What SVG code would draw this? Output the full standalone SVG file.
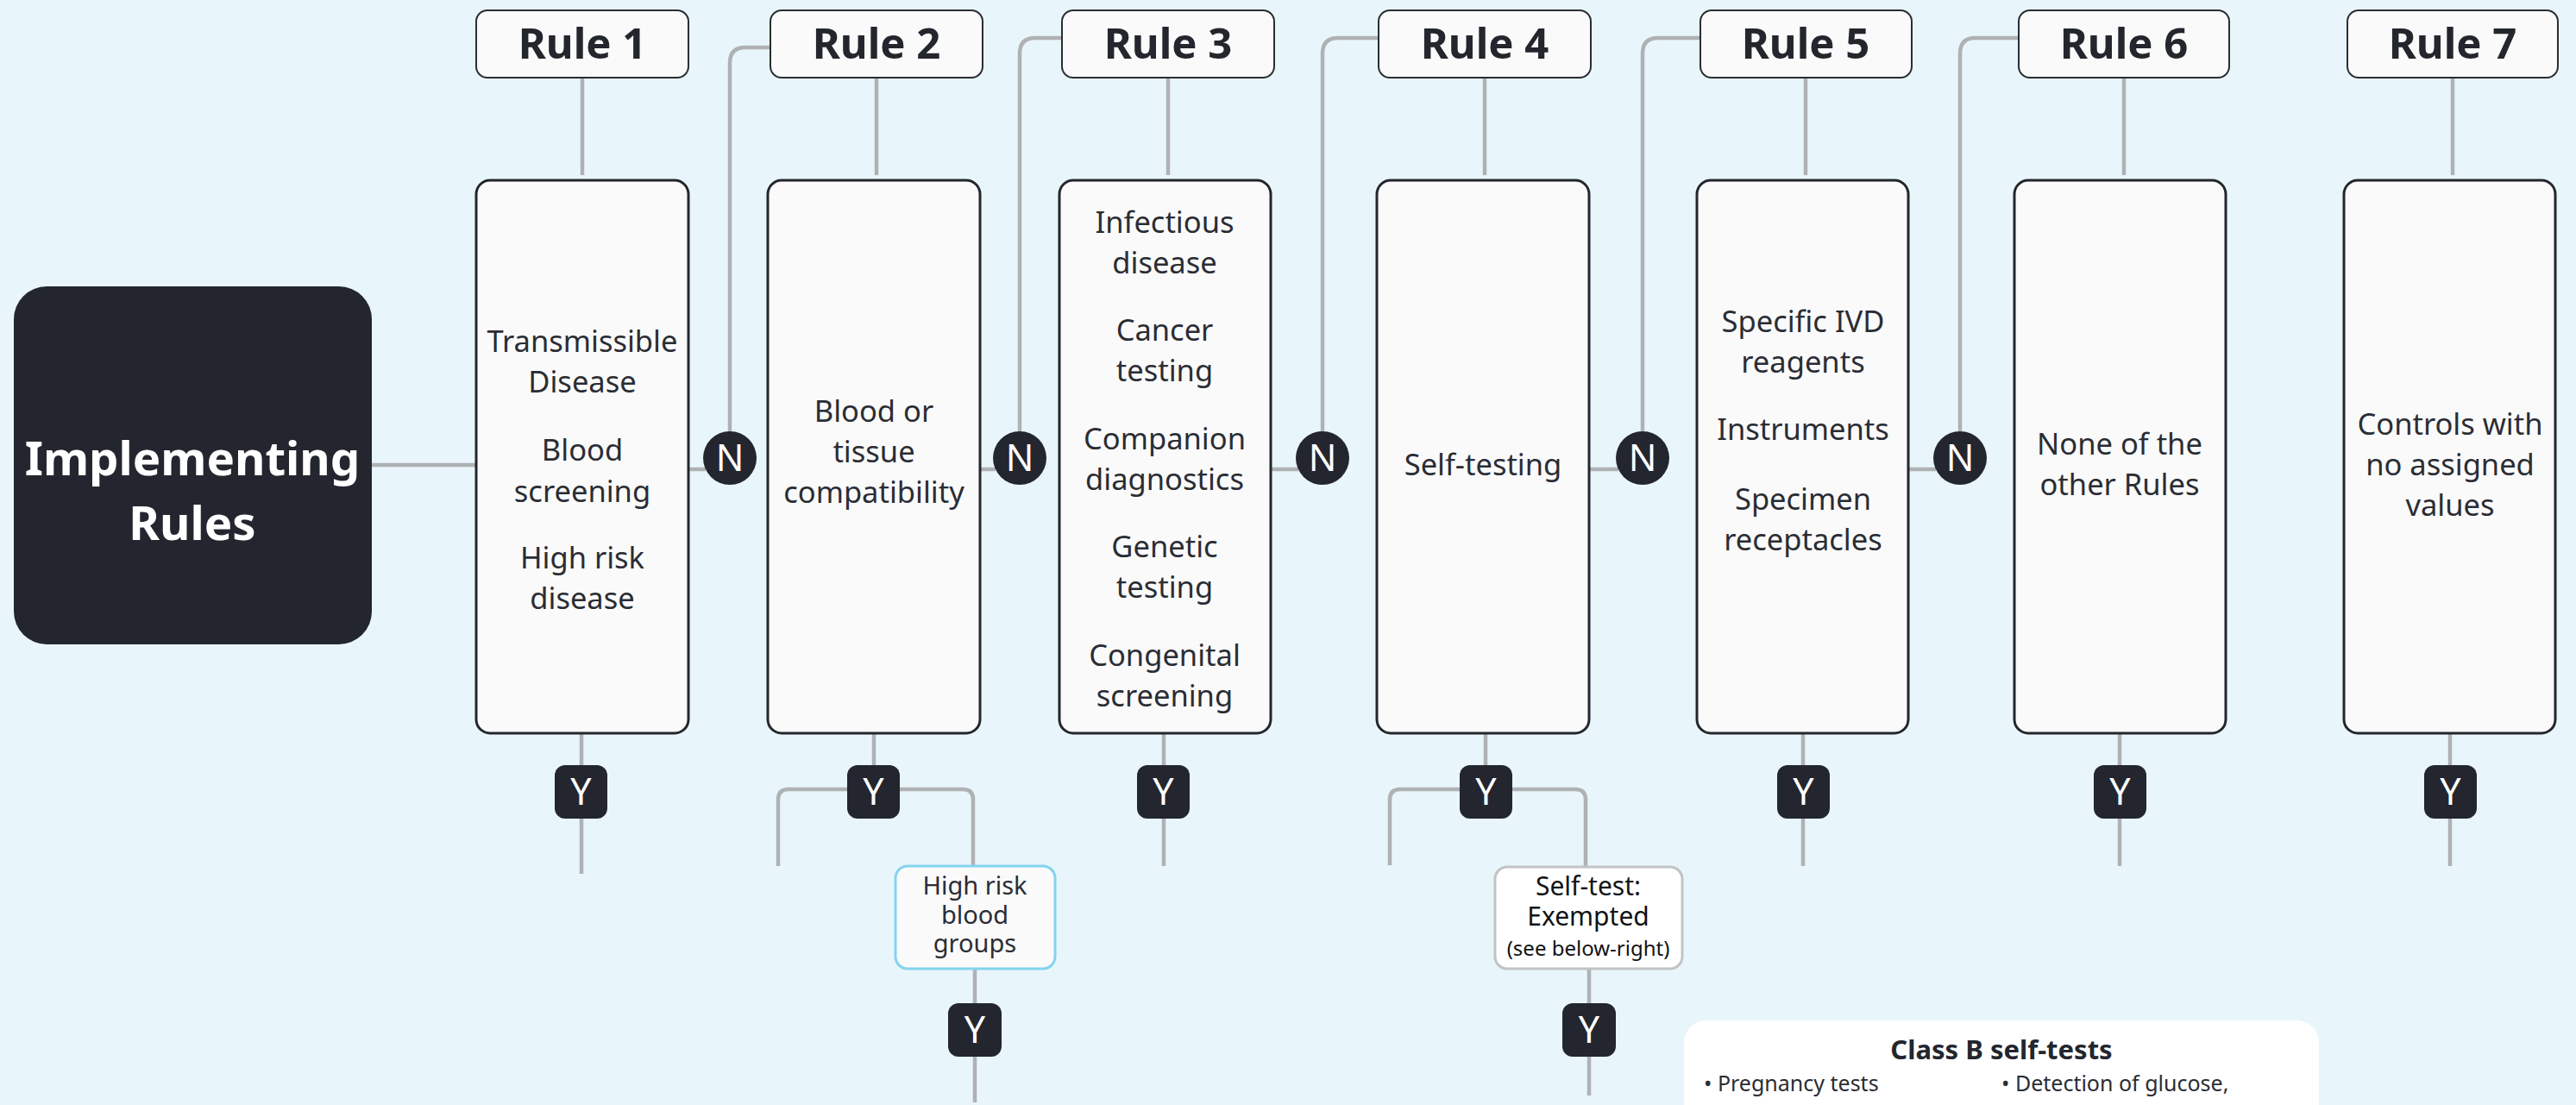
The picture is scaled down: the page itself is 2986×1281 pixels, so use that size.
<svg xmlns="http://www.w3.org/2000/svg" width="2986" height="1281" viewBox="0 0 2986 1281">
<style>
  .bg{fill:#e8f6fc}
  .hdr{fill:#fafafa;stroke:#2a2d33;stroke-width:2}
  .body{fill:#fafafa;stroke:#23262d;stroke-width:3}
  .ht{font-family:"Noto Sans","Liberation Sans",sans-serif;font-weight:bold;font-size:49px;fill:#23262d;text-anchor:middle}
  .bt{font-family:"Noto Sans","Liberation Sans",sans-serif;font-size:34.5px;fill:#2a2d34;text-anchor:middle}
  .conn{fill:none;stroke:#b0b1b3;stroke-width:4.5}
  .dark{fill:#23262e}
  .lbl{font-family:"Noto Sans","Liberation Sans",sans-serif;font-size:43px;fill:#ffffff;text-anchor:middle}
  .st{font-family:"Noto Sans","Liberation Sans",sans-serif;font-size:29px;fill:#2a2d34;text-anchor:middle}
  .cb{font-family:"Noto Sans","Liberation Sans",sans-serif;font-size:25px;fill:#2a2d34}
</style>
<rect class="bg" x="0" y="0" width="2986" height="1281"/>

<g id="connectors">
  <line class="conn" x1="431" y1="539" x2="552" y2="539"/>
  <line class="conn" x1="675" y1="90" x2="675" y2="203"/>
  <line class="conn" x1="1016" y1="90" x2="1016" y2="203"/>
  <line class="conn" x1="1354" y1="90" x2="1354" y2="203"/>
  <line class="conn" x1="1721" y1="90" x2="1721" y2="203"/>
  <line class="conn" x1="2093" y1="90" x2="2093" y2="203"/>
  <line class="conn" x1="2462" y1="90" x2="2462" y2="203"/>
  <line class="conn" x1="2843" y1="90" x2="2843" y2="203"/>
  <line class="conn" x1="798" y1="544" x2="818" y2="544"/>
  <line class="conn" x1="1136" y1="544" x2="1154" y2="544"/>
  <line class="conn" x1="1473" y1="544" x2="1505" y2="544"/>
  <line class="conn" x1="1842" y1="544" x2="1876" y2="544"/>
  <line class="conn" x1="2212" y1="544" x2="2244" y2="544"/>
  <path class="conn" d="M846 500 V73 Q846 55 864 55 H893"/>
  <path class="conn" d="M1182 500 V62 Q1182 44 1200 44 H1231"/>
  <path class="conn" d="M1533 500 V62 Q1533 44 1551 44 H1598"/>
  <path class="conn" d="M1904 500 V62 Q1904 44 1922 44 H1971"/>
  <path class="conn" d="M2272 500 V62 Q2272 44 2290 44 H2340"/>
  <line class="conn" x1="674" y1="850" x2="674" y2="1013"/>
  <line class="conn" x1="1013" y1="850" x2="1013" y2="890"/>
  <path class="conn" d="M985 915 H914 Q902 915 902 927 V1004"/>
  <path class="conn" d="M1040 915 H1116 Q1128 915 1128 927 V1004"/>
  <line class="conn" x1="1130" y1="1123" x2="1130" y2="1278"/>
  <line class="conn" x1="1349" y1="850" x2="1349" y2="1004"/>
  <line class="conn" x1="1722" y1="850" x2="1722" y2="890"/>
  <path class="conn" d="M1694 915 H1623 Q1611 915 1611 927 V1003"/>
  <path class="conn" d="M1750 915 H1826 Q1838 915 1838 927 V1005"/>
  <line class="conn" x1="1842" y1="1123" x2="1842" y2="1270"/>
  <line class="conn" x1="2090" y1="850" x2="2090" y2="1004"/>
  <line class="conn" x1="2457" y1="850" x2="2457" y2="1004"/>
  <line class="conn" x1="2840" y1="850" x2="2840" y2="1004"/>
</g>

<g id="root">
  <rect class="dark" x="16" y="332" width="415" height="415" rx="38"/>
  <text x="223" y="551" font-family="Noto Sans, Liberation Sans, sans-serif" font-weight="bold" font-size="54.5" fill="#ffffff" text-anchor="middle">Implementing</text>
  <text x="223" y="626" font-family="Noto Sans, Liberation Sans, sans-serif" font-weight="bold" font-size="54.5" fill="#ffffff" text-anchor="middle">Rules</text>
</g>

<g id="rule1">
  <rect class="hdr" x="552" y="12" width="246" height="78" rx="13"/>
  <text class="ht" x="675" y="68">Rule 1</text>
  <rect class="body" x="552" y="209" width="246" height="641" rx="16"/>
  <text class="bt" x="675" y="408">Transmissible</text>
  <text class="bt" x="675" y="455">Disease</text>
  <text class="bt" x="675" y="534">Blood</text>
  <text class="bt" x="675" y="582">screening</text>
  <text class="bt" x="675" y="659">High risk</text>
  <text class="bt" x="675" y="706">disease</text>
</g>

<g id="rule2">
  <rect class="hdr" x="893" y="12" width="246" height="78" rx="13"/>
  <text class="ht" x="1016" y="68">Rule 2</text>
  <rect class="body" x="890" y="209" width="246" height="641" rx="16"/>
  <text class="bt" x="1013" y="489">Blood or</text>
  <text class="bt" x="1013" y="536">tissue</text>
  <text class="bt" x="1013" y="583">compatibility</text>
</g>

<g id="rule3">
  <rect class="hdr" x="1231" y="12" width="246" height="78" rx="13"/>
  <text class="ht" x="1354" y="68">Rule 3</text>
  <rect class="body" x="1228" y="209" width="245" height="641" rx="16"/>
  <text class="bt" x="1350" y="270">Infectious</text>
  <text class="bt" x="1350" y="317">disease</text>
  <text class="bt" x="1350" y="395">Cancer</text>
  <text class="bt" x="1350" y="442">testing</text>
  <text class="bt" x="1350" y="521">Companion</text>
  <text class="bt" x="1350" y="568">diagnostics</text>
  <text class="bt" x="1350" y="646">Genetic</text>
  <text class="bt" x="1350" y="693">testing</text>
  <text class="bt" x="1350" y="772">Congenital</text>
  <text class="bt" x="1350" y="819">screening</text>
</g>

<g id="rule4">
  <rect class="hdr" x="1598" y="12" width="246" height="78" rx="13"/>
  <text class="ht" x="1721" y="68">Rule 4</text>
  <rect class="body" x="1596" y="209" width="246" height="641" rx="16"/>
  <text class="bt" x="1719" y="551">Self-testing</text>
</g>

<g id="rule5">
  <rect class="hdr" x="1971" y="12" width="245" height="78" rx="13"/>
  <text class="ht" x="2093" y="68">Rule 5</text>
  <rect class="body" x="1967" y="209" width="245" height="641" rx="16"/>
  <text class="bt" x="2090" y="385">Specific IVD</text>
  <text class="bt" x="2090" y="432">reagents</text>
  <text class="bt" x="2090" y="510">Instruments</text>
  <text class="bt" x="2090" y="591">Specimen</text>
  <text class="bt" x="2090" y="638">receptacles</text>
</g>

<g id="rule6">
  <rect class="hdr" x="2340" y="12" width="244" height="78" rx="13"/>
  <text class="ht" x="2462" y="68">Rule 6</text>
  <rect class="body" x="2335" y="209" width="245" height="641" rx="16"/>
  <text class="bt" x="2457" y="527">None of the</text>
  <text class="bt" x="2457" y="574">other Rules</text>
</g>

<g id="rule7">
  <rect class="hdr" x="2721" y="12" width="244" height="78" rx="13"/>
  <text class="ht" x="2843" y="68">Rule 7</text>
  <rect class="body" x="2717" y="209" width="245" height="641" rx="16"/>
  <text class="bt" x="2840" y="504">Controls with</text>
  <text class="bt" x="2840" y="551">no assigned</text>
  <text class="bt" x="2840" y="598">values</text>
</g>

<g id="n-markers">
  <circle class="dark" cx="846" cy="531" r="31"/><text class="lbl" x="846" y="546">N</text>
  <circle class="dark" cx="1182" cy="531" r="31"/><text class="lbl" x="1182" y="546">N</text>
  <circle class="dark" cx="1533" cy="531" r="31"/><text class="lbl" x="1533" y="546">N</text>
  <circle class="dark" cx="1904" cy="531" r="31"/><text class="lbl" x="1904" y="546">N</text>
  <circle class="dark" cx="2272" cy="531" r="31"/><text class="lbl" x="2272" y="546">N</text>
</g>

<g id="y-markers">
  <rect class="dark" x="643" y="887" width="61" height="62" rx="12"/><text class="lbl" x="673.5" y="933">Y</text>
  <rect class="dark" x="982" y="887" width="61" height="62" rx="12"/><text class="lbl" x="1012.5" y="933">Y</text>
  <rect class="dark" x="1318" y="887" width="61" height="62" rx="12"/><text class="lbl" x="1348.5" y="933">Y</text>
  <rect class="dark" x="1692" y="887" width="61" height="62" rx="12"/><text class="lbl" x="1722.5" y="933">Y</text>
  <rect class="dark" x="2060" y="887" width="61" height="62" rx="12"/><text class="lbl" x="2090.5" y="933">Y</text>
  <rect class="dark" x="2427" y="887" width="61" height="62" rx="12"/><text class="lbl" x="2457.5" y="933">Y</text>
  <rect class="dark" x="2810" y="887" width="61" height="62" rx="12"/><text class="lbl" x="2840.5" y="933">Y</text>
  <rect class="dark" x="1099" y="1163" width="62" height="62" rx="12"/><text class="lbl" x="1130" y="1209">Y</text>
  <rect class="dark" x="1811" y="1163" width="62" height="62" rx="12"/><text class="lbl" x="1842" y="1209">Y</text>
</g>

<g id="high-risk-blood-groups">
  <rect x="1038" y="1004" width="185" height="119" rx="14" fill="#fafafa" stroke="#84d3ef" stroke-width="3"/>
  <text class="st" x="1130" y="1037">High risk</text>
  <text class="st" x="1130" y="1071">blood</text>
  <text class="st" x="1130" y="1104">groups</text>
</g>

<g id="self-test-exempted">
  <rect x="1733" y="1005" width="217" height="118" rx="14" fill="#ffffff" stroke="#c2c3c4" stroke-width="3"/>
  <text x="1841" y="1038" font-family="Noto Sans, Liberation Sans, sans-serif" font-size="30" fill="#111316" text-anchor="middle">Self-test:</text>
  <text x="1841" y="1073" font-family="Noto Sans, Liberation Sans, sans-serif" font-size="30" fill="#111316" text-anchor="middle">Exempted</text>
  <text x="1841" y="1108" font-family="Noto Sans, Liberation Sans, sans-serif" font-size="24" fill="#111316" text-anchor="middle">(see below-right)</text>
</g>

<g id="class-b-self-tests">
  <rect x="1952" y="1183" width="736" height="140" rx="26" fill="#ffffff"/>
  <text x="2320" y="1228" font-family="Noto Sans, Liberation Sans, sans-serif" font-weight="bold" font-size="31" fill="#23262d" text-anchor="middle">Class B self-tests</text>
  <text class="cb" x="1975" y="1265">• Pregnancy tests</text>
  <text class="cb" x="2320" y="1265">• Detection of glucose,</text>
</g>
</svg>
